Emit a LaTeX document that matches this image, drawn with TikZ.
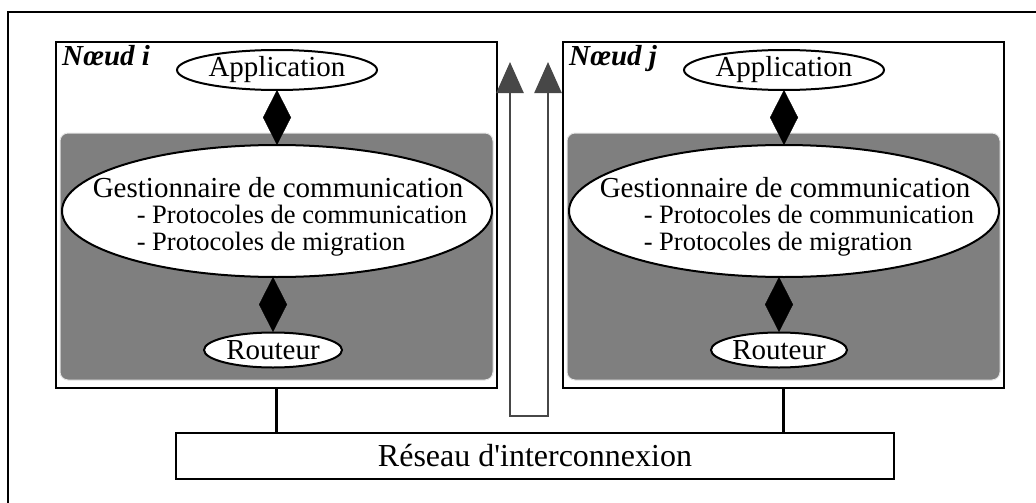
\documentclass[tikz,border=0pt]{standalone}
\usepackage{fontspec}
\setmainfont{Liberation Serif}
\usetikzlibrary{shapes.geometric, arrows.meta, positioning}
\definecolor{CoreGrey}{HTML}{7F7F7F}
\definecolor{LoopGrey}{HTML}{474747}
\newcommand{\labelfont}{\fontsize{29}{31}\selectfont}
\newcommand{\protofont}{\fontsize{26.5}{26.5}\selectfont}
\newcommand{\netfont}{\fontsize{32}{34}\selectfont}
\tikzset{
  % Box styles
  nodebox/.style={rectangle, draw=black, line width=2.5pt, minimum width=441pt, minimum height=346pt, inner sep=0pt, outer sep=0pt},
  corebox/.style={rectangle, rounded corners=8pt, draw=gray!20, line width=1pt, fill=CoreGrey, minimum width=433pt, minimum height=247pt},
  netbox/.style={rectangle, draw=black, line width=2.5pt, minimum width=718pt, minimum height=46pt, font=\netfont, outer sep=0pt},
  % Oval styles
  oval/.style={ellipse, draw=black, line width=2pt, fill=white, inner sep=0pt, outer sep=0pt, font=\labelfont},
  bigoval/.style={oval, minimum width=430pt, minimum height=132pt},
  % Text styles
  titletext/.style={inner sep=0pt, font=\labelfont\bfseries\itshape},
  stacktext/.style={inner sep=0pt, align=left, font=\protofont},
  % Connector styles
  bond/.style={-{Diamond[length=55pt, width=28pt]}, line width=0.4pt, black},
  wire/.style={line width=2.5pt, black},
  loopback/.style={{Triangle[length=31pt, width=27pt]}-{Triangle[length=31pt, width=27pt]}, line width=2.5pt, LoopGrey}
}

\begin{document}
\begin{tikzpicture}[x=1pt, y=-1pt]
  \useasboundingbox (0,0) rectangle (1036,503);
  % Outer frame, cut by the page
  \draw[wire] (1036,12) -- (8,12) -- (8,503);

  % Node i
  \node[nodebox] (boxi) at (276.5,215) {};
  \node[corebox] (corei) at (276.5,256.5) {};
  \node[titletext, below right=3pt and 6pt of boxi.north west] (titlei) {Nœud i};
  \node[oval, minimum width=200pt, minimum height=40pt] (appi) at (277,70) {Application};
  \node[bigoval] (gesti) at (277,211) {};
  \node[stacktext, xshift=3pt, yshift=-5.5pt] (stacki) at (gesti) {{\labelfont Gestionnaire de communication}\\\hspace*{44pt}- Protocoles de communication\\\hspace*{44pt}- Protocoles de migration};
  \node[oval, minimum width=138pt, minimum height=35pt] (routi) at (273,350) {Routeur};
  \draw[bond] (gesti.north) -- (appi.south);
  \draw[bond] (routi.north) -- (routi.north |- gesti.south);

  % Node j
  \node[nodebox] (boxj) at (783.5,215) {};
  \node[corebox] (corej) at (783.5,256.5) {};
  \node[titletext, below right=3pt and 6pt of boxj.north west] (titlej) {Nœud j};
  \node[oval, minimum width=200pt, minimum height=40pt] (appj) at (784,70) {Application};
  \node[bigoval] (gestj) at (784,211) {};
  \node[stacktext, xshift=3pt, yshift=-5.5pt] (stackj) at (gestj) {{\labelfont Gestionnaire de communication}\\\hspace*{44pt}- Protocoles de communication\\\hspace*{44pt}- Protocoles de migration};
  \node[oval, minimum width=136pt, minimum height=35pt] (routj) at (779,350) {Routeur};
  \draw[bond] (gestj.north) -- (appj.south);
  \draw[bond] (routj.north) -- (routj.north |- gestj.south);

  % Loop between the nodes
  \coordinate (upi) at (510,62);
  \coordinate (upj) at (548,62);
  \draw[loopback] (upi) |- (548,416) -- (upj);

  % Network
  \node[netbox] (net) at (535,456) {Réseau d\textquotesingle interconnexion};
  \draw[wire] (boxi.south) -- (boxi.south |- net.north);
  \draw[wire] (boxj.south) -- (boxj.south |- net.north);
\end{tikzpicture}
\end{document}
